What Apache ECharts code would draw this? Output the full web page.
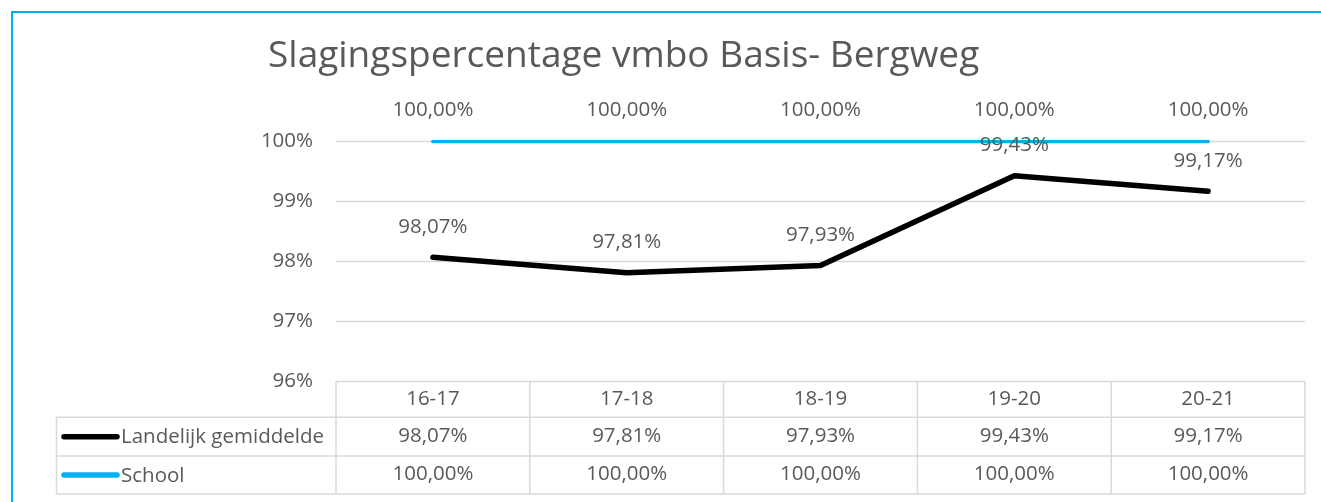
<!DOCTYPE html>
<html>
<head>
<meta charset="utf-8">
<script src="https://cdn.jsdelivr.net/npm/echarts@6/dist/echarts.min.js"></script>
<style>
html,body{margin:0;padding:0;background:#fff;}
#c{width:1321px;height:502px;}
</style>
</head>
<body>
<div id="c"></div>
<script>
const titleText = 'Slagingspercentage vmbo Basis- Bergweg';
const categories = ['16-17', '17-18', '18-19', '19-20', '20-21'];
const seriesNames = ['Landelijk gemiddelde', 'School'];
const landelijk = [98.07, 97.81, 97.93, 99.43, 99.17];
const school = [100.00, 100.00, 100.00, 100.00, 100.00];
const yTicks = [96, 97, 98, 99, 100];

const FONT = '"Open Sans", "Noto Sans", sans-serif';
const TXT = '#595959';
const GRIDC = '#D9D9D9';
const BLACK = '#000000';
const BLUE = '#00B0F0';
const FS = 20.5;

function fmt(v) { return v.toFixed(2).replace('.', ',') + '%'; }

const chart = echarts.init(document.getElementById('c'), null, {renderer: 'canvas'});

const option = {
  animation: false,
  backgroundColor: '#ffffff',
  textStyle: {fontFamily: FONT},
  title: {
    text: titleText,
    left: 263, top: 33,
    textStyle: {fontFamily: FONT, fontSize: 37, fontWeight: 'normal', color: TXT}
  },
  grid: {left: 336, right: 16, top: 141.5, bottom: 502 - 381.3, containLabel: false},
  xAxis: [
    {
      type: 'category', data: categories, boundaryGap: true,
      axisLine: {show: false}, axisTick: {show: false}, splitLine: {show: false},
      axisLabel: {margin: 7, fontFamily: FONT, fontSize: FS, color: TXT}
    },
    {
      type: 'category', data: categories, boundaryGap: true, position: 'bottom', offset: 37.5,
      axisLine: {show: false}, axisTick: {show: false}, splitLine: {show: false},
      axisLabel: {margin: 7, fontFamily: FONT, fontSize: FS, color: TXT,
        formatter: function (v, i) { return fmt(landelijk[i]); }}
    },
    {
      type: 'category', data: categories, boundaryGap: true, position: 'bottom', offset: 75.7,
      axisLine: {show: false}, axisTick: {show: false}, splitLine: {show: false},
      axisLabel: {margin: 7, fontFamily: FONT, fontSize: FS, color: TXT,
        formatter: function (v, i) { return fmt(school[i]); }}
    }
  ],
  yAxis: {
    type: 'value', min: yTicks[0], max: yTicks[yTicks.length - 1], interval: 1,
    axisLine: {show: false}, axisTick: {show: false},
    splitLine: {lineStyle: {color: GRIDC, width: 1.3}},
    axisLabel: {margin: 23, fontFamily: FONT, fontSize: FS, color: TXT,
      formatter: function (v) { return v + '%'; }}
  },
  series: [
    {
      name: seriesNames[0], type: 'line', data: landelijk,
      symbol: 'circle', symbolSize: 2, showSymbol: true, z: 3,
      itemStyle: {color: BLACK},
      lineStyle: {color: BLACK, width: 5.5, cap: 'round', join: 'round'},
      label: {show: true, position: 'top', distance: 19, fontFamily: FONT, fontSize: FS, color: TXT,
        formatter: function (p) { return fmt(p.value); }}
    },
    {
      name: seriesNames[1], type: 'line', data: school,
      symbol: 'circle', symbolSize: 2, showSymbol: true, z: 2,
      itemStyle: {color: BLUE},
      lineStyle: {color: BLUE, width: 3.5, cap: 'round', join: 'round'},
      label: {show: true, position: 'top', distance: 20, fontFamily: FONT, fontSize: FS, color: TXT,
        formatter: function (p) { return fmt(p.value); }}
    }
  ]
};
chart.setOption(option);

// data table borders and legend keys, positioned from the axes
function buildTable() {
  const centers = categories.map(c => chart.convertToPixel({xAxisIndex: 0}, c));
  const bw = centers[1] - centers[0];
  const xs = [centers[0] - bw / 2].concat(centers.map(c => c + bw / 2));
  const yTop = chart.convertToPixel({yAxisIndex: 0}, yTicks[0]);
  const rowH = [36, 38.7, 38];
  const y1 = yTop + rowH[0], y2 = y1 + rowH[1], y3 = y2 + rowH[2];
  const legLeft = 56.5;
  const els = [];
  const ls = {stroke: GRIDC, lineWidth: 1.5};
  xs.forEach(x => els.push({type: 'line', shape: {x1: x, y1: yTop, x2: x, y2: y3}, style: ls, silent: true}));
  [y1, y2, y3].forEach(y => els.push({type: 'line', shape: {x1: legLeft, y1: y, x2: xs[xs.length - 1], y2: y}, style: ls, silent: true}));
  els.push({type: 'line', shape: {x1: legLeft, y1: y1, x2: legLeft, y2: y3}, style: ls, silent: true});
  const keyColors = [BLACK, BLUE];
  const keyW = [5.5, 5.5];
  [ (y1 + y2) / 2, (y2 + y3) / 2 ].forEach((yc, i) => {
    els.push({type: 'line', shape: {x1: 64, y1: yc, x2: 117, y2: yc},
      style: {stroke: keyColors[i], lineWidth: keyW[i], lineCap: 'round'}, silent: true});
    els.push({type: 'text', x: 121, y: yc + 1, style: {text: seriesNames[i], fontFamily: FONT, fontSize: FS,
      fill: TXT, textVerticalAlign: 'middle', verticalAlign: 'middle'}, silent: true});
  });
  // outer chart frame
  els.push({type: 'rect', shape: {x: 12, y: 12, width: 1400, height: 600},
    style: {fill: 'none', stroke: BLUE, lineWidth: 2}, silent: true, z: 100});
  chart.setOption({graphic: {elements: els}});
}
buildTable();
</script>
</body>
</html>
